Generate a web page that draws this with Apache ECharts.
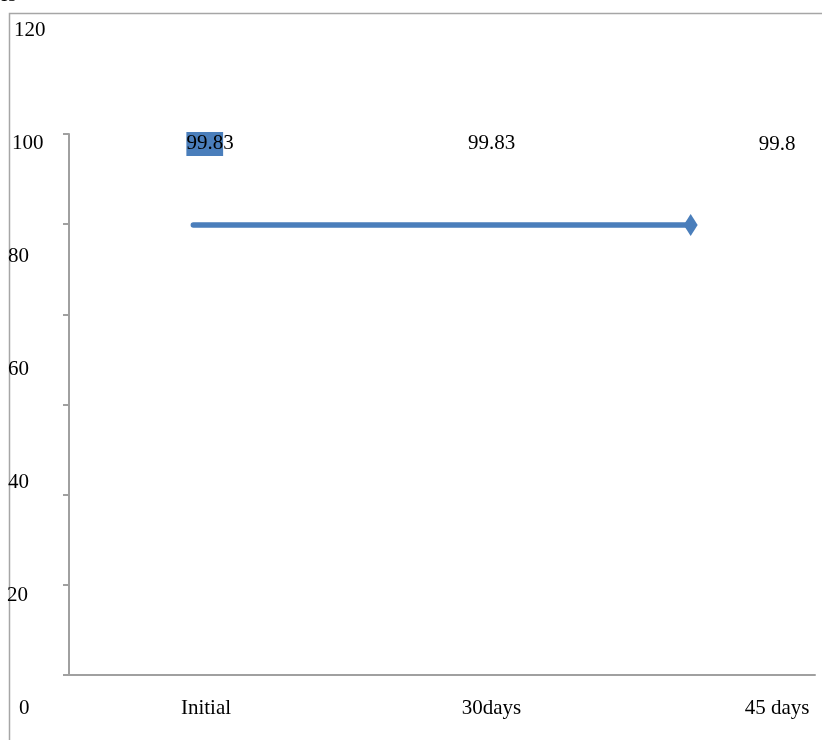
<!DOCTYPE html>
<html>
<head>
<meta charset="utf-8">
<script src="https://cdn.jsdelivr.net/npm/echarts@6/dist/echarts.min.js"></script>
<style>html,body{margin:0;padding:0;background:#fff;}#c{width:822px;height:740px;}</style>
</head>
<body>
<div id="c"></div>
<script>
var categories = ['Initial', '30days', '45 days'];
var values = [99.83, 99.83, 99.8];
var labelTexts = ['99.83', '99.83', '99.8'];
var yTicks = [0, 20, 40, 60, 80, 100, 120];

var FONT = '"Liberation Serif", "Times New Roman", serif';
var BLUE = '#4a7ebb';
var GRAY = '#a0a0a0';

var chart = echarts.init(document.getElementById('c'), null, {renderer: 'canvas'});

var lineData = values.map(function (v, i) {
  return {value: v, symbol: i === values.length - 1 ? 'diamond' : 'none'};
});
var labelData = values.map(function (v, i) {
  var d = {value: v, name: labelTexts[i]};
  if (i === 0) { d.label = {offset: [4, 0]}; }
  return d;
});

var leftPad = {0: 12, 20: 0, 40: 1, 60: 1, 80: 1, 100: 5, 120: 7};
var richY = {};
yTicks.forEach(function (t) {
  richY['p' + t] = {fontFamily: FONT, fontSize: 21, color: '#000', padding: [0, 0, 0, leftPad[t]]};
});

var option = {
  animation: false,
  backgroundColor: '#fff',
  graphic: [
    {type: 'rect', silent: true, shape: {x: 9.5, y: 13.5, width: 900, height: 900},
     style: {fill: 'none', stroke: '#a6a6a6', lineWidth: 1.5}},
    {type: 'text', silent: true, x: -1, y: -15,
     style: {text: 'es', fontFamily: FONT, fontSize: 21, fill: '#000', verticalAlign: 'top'}}
  ],
  grid: [
    {left: 69, right: 7, top: 134, bottom: 65},
    {left: 206, right: 45, top: 30, bottom: 32}
  ],
  xAxis: [
    {type: 'category', gridIndex: 0, data: categories, boundaryGap: true,
     axisLine: {show: true, lineStyle: {color: GRAY, width: 2}},
     axisTick: {show: false}, axisLabel: {show: false}, splitLine: {show: false}},
    {type: 'category', gridIndex: 1, data: categories, boundaryGap: false,
     axisLine: {show: false}, axisTick: {show: false}, splitLine: {show: false},
     axisLabel: {show: true, interval: 0, margin: 0, verticalAlign: 'middle',
                 fontFamily: FONT, fontSize: 21, color: '#000'}}
  ],
  yAxis: [
    {type: 'value', gridIndex: 0, min: 0, max: 120, interval: 20,
     axisLine: {show: true, lineStyle: {color: GRAY, width: 2}},
     axisTick: {show: true, length: 6, inside: false, lineStyle: {color: GRAY, width: 2}},
     axisLabel: {show: false}, splitLine: {show: false}},
    {type: 'value', gridIndex: 1, min: 0, max: 120, interval: 20, position: 'left',
     axisLine: {show: false}, axisTick: {show: false}, splitLine: {show: false},
     offset: 206,
     axisLabel: {show: true, inside: true, align: 'left', verticalAlign: 'middle', margin: 7,
                 formatter: function (v) { return '{p' + v + '|' + v + '}'; },
                 rich: richY, fontFamily: FONT, fontSize: 21, color: '#000'}}
  ],
  series: [
    {type: 'line', xAxisIndex: 0, yAxisIndex: 0, data: lineData,
     symbolSize: [14, 22], itemStyle: {color: BLUE},
     lineStyle: {color: BLUE, width: 5.5, cap: 'round'}, label: {show: false}},
    {type: 'scatter', xAxisIndex: 1, yAxisIndex: 1, data: labelData,
     symbol: 'circle', symbolSize: 2, itemStyle: {color: 'rgba(255,255,255,0)', opacity: 1},
     label: {show: true, position: 'inside', color: '#000', opacity: 1,
       formatter: function (p) {
         if (p.dataIndex === 0) {
           return '{h|' + p.name.slice(0, 4) + '}{n|' + p.name.slice(4) + '}';
         }
         return '{n|' + p.name + '}';
       },
       rich: {
         h: {fontFamily: FONT, fontSize: 21, color: '#000', backgroundColor: BLUE, lineHeight: 24, height: 24},
         n: {fontFamily: FONT, fontSize: 21, color: '#000', lineHeight: 24, height: 24}
       }}}
  ]
};
chart.setOption(option);
</script>
</body>
</html>
